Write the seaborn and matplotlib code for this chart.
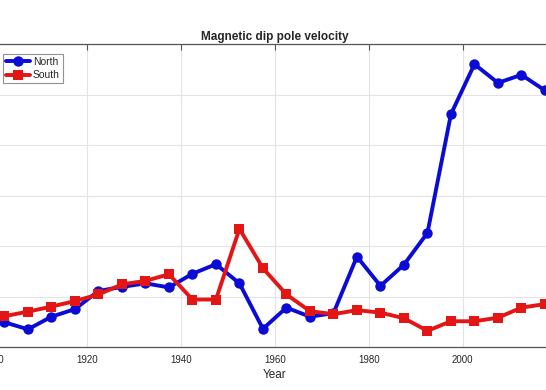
import numpy as np
import pandas as pd
import matplotlib
matplotlib.use("Agg")
import matplotlib.pyplot as plt
import seaborn as sns

years = [1902.5, 1907.5, 1912.5, 1917.5, 1922.5, 1927.5, 1932.5, 1937.5,
         1942.5, 1947.5, 1952.5, 1957.5, 1962.5, 1967.5, 1972.5, 1977.5,
         1982.5, 1987.5, 1992.5, 1997.5, 2002.5, 2007.5, 2012.5, 2017.5]
north = [4.9, 3.5, 6.0, 7.5, 11.1, 11.9, 12.6, 11.8, 14.5, 16.4, 12.6, 3.6,
         7.8, 6.0, 6.7, 17.9, 12.1, 16.3, 22.6, 46.1, 56.0, 52.3, 53.9, 50.8]
south = [6.1, 7.0, 8.0, 9.1, 10.4, 12.4, 13.1, 14.4, 9.4, 9.4, 23.4, 15.6,
         10.4, 7.1, 6.5, 7.3, 6.8, 5.7, 3.2, 5.1, 5.1, 5.8, 7.8, 8.5]
series_names = ["North", "South"]
xticks = [1900, 1920, 1940, 1960, 1980, 2000, 2020]
yticks = [0, 10, 20, 30, 40, 50, 60]

df = pd.DataFrame({
    "Year": years * 2,
    "Velocity": north + south,
    "Pole": [series_names[0]] * len(years) + [series_names[1]] * len(years),
})

sns.set_style("white")
plt.rcParams["font.family"] = ["Liberation Sans", "DejaVu Sans"]

W, H = 546, 390
fig = plt.figure(figsize=(W / 100, H / 100), dpi=100)
left_px, right_px, top_px, bottom_px = -7.3, 556.7, 44, 347
ax = fig.add_axes([left_px / W, 1 - bottom_px / H,
                   (right_px - left_px) / W, (bottom_px - top_px) / H])

sns.lineplot(data=df, x="Year", y="Velocity", hue="Pole", style="Pole",
             markers={"North": "o", "South": "s"}, dashes=False,
             palette={"North": "#0b0bd6", "South": "#e31515"},
             linewidth=2.8, markersize=7.5, markeredgewidth=0, ax=ax)

ax.set_xlim(1900, 2020)
ax.set_ylim(0, 60)
ax.set_xticks(xticks)
ax.set_yticks(yticks)
ax.grid(True, color="#e3e3e3", linewidth=0.8)
ax.set_axisbelow(True)
for s in ax.spines.values():
    s.set_color("#555555")
    s.set_linewidth(0.9)
ax.tick_params(direction="in", length=4, width=0.8, color="#555555",
               top=True, right=True, labelsize=7, pad=6)
ax.set_xlabel("Year", fontsize=8.5, labelpad=3)
ax.set_ylabel("Velocity (km/yr)", fontsize=8.5)
ax.set_title("Magnetic dip pole velocity", fontsize=8.5, fontweight="bold", pad=3)

leg = ax.legend(loc="upper left", bbox_to_anchor=(3 / W, 1 - 54 / H),
                bbox_transform=fig.transFigure, borderaxespad=0,
                fancybox=False, edgecolor="#777777", fontsize=7.5,
                handlelength=2.3, handletextpad=0.25, borderpad=0.3,
                labelspacing=0.3, title=None)
leg.get_frame().set_linewidth(0.8)

fig.savefig("out.png", dpi=100)
